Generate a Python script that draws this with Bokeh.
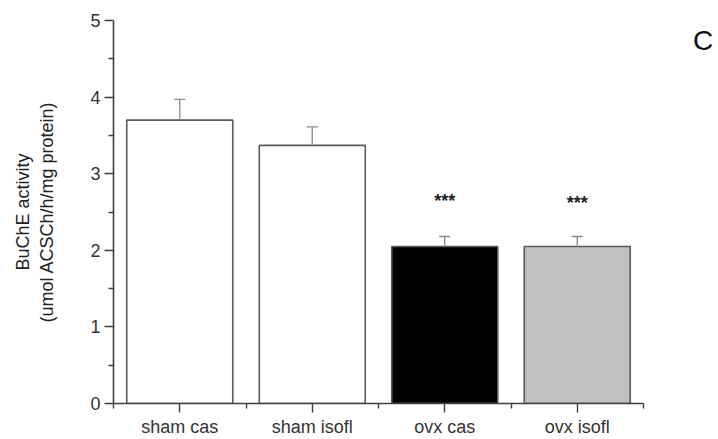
import math
from bokeh.plotting import figure
from bokeh.models import FixedTicker, Label, ColumnDataSource, Range1d
from bokeh.core.properties import value
from bokeh.embed import file_html
from bokeh.resources import INLINE

categories = ["sham cas", "sham isofl", "ovx cas", "ovx isofl"]
means = [3.70, 3.37, 2.05, 2.05]
errors = [0.27, 0.24, 0.13, 0.13]
bar_colors = ["white", "white", "black", "#c0c0c0"]
stars = ["", "", "***", "***"]
star_y = [0, 0, 2.65, 2.62]
y_ticks = [0, 1, 2, 3, 4, 5]
y_minor = [0.5, 1.5, 2.5, 3.5, 4.5]

FONT = "Liberation Sans"
xs = [i + 0.5 for i in range(len(categories))]

p = figure(width=718, height=439, output_backend="svg", toolbar_location=None,
           x_range=Range1d(0, 4.566), y_range=Range1d(0, 5),
           min_border_left=113, min_border_right=0, min_border_top=20, min_border_bottom=34)
p.outline_line_color = None
p.xgrid.visible = False
p.ygrid.visible = False
p.background_fill_color = "white"

src = ColumnDataSource(dict(x=xs, top=means, color=bar_colors,
                            up=[m + e for m, e in zip(means, errors)]))
p.vbar(x="x", top="top", bottom=0, width=0.8, source=src, fill_color="color",
       line_color="#5a5a5a", line_width=1.6)
p.segment(x0="x", y0="top", x1="x", y1="up", source=src, line_color="#8a8a8a", line_width=1.3)
p.scatter(x="x", y="up", source=src, marker="dash", size=11, line_color="#8a8a8a", line_width=1.3)

sx = [x for x, s in zip(xs, stars) if s]
sy = [y for y, s in zip(star_y, stars) if s]
st = [s for s in stars if s]
p.text(x=sx, y=sy, text=st, text_align="center", text_baseline="middle",
       text_font=value(FONT), text_font_size="18px", text_font_style="bold", text_color="#222222")

# axes
p.xaxis.ticker = FixedTicker(ticks=xs, minor_ticks=[0, 1, 2, 3, 4])
p.xaxis.major_label_overrides = {x: c for x, c in zip(xs, categories)}
p.xaxis.bounds = (0, 4)
p.yaxis.ticker = FixedTicker(ticks=y_ticks, minor_ticks=y_minor)
for ax in (p.xaxis[0], p.yaxis[0]):
    ax.axis_line_color = "#404040"
    ax.axis_line_width = 1.6
    ax.major_tick_line_color = "#404040"
    ax.minor_tick_line_color = "#404040"
    ax.major_tick_line_width = 1.4
    ax.minor_tick_line_width = 1.4
    ax.major_tick_in = 0
    ax.minor_tick_in = 0
    ax.major_tick_out = 9
    ax.minor_tick_out = 5
    ax.major_label_text_font = FONT
    ax.major_label_text_font_size = "18px"
    ax.major_label_text_color = "#333333"
p.xaxis.major_label_standoff = 4
p.yaxis.major_label_standoff = 4
p.yaxis.axis_label = "BuChE activity\n(umol ACSCh/h/mg protein)"
p.yaxis.axis_label_text_font = FONT
p.yaxis.axis_label_text_font_size = "18px"
p.yaxis.axis_label_text_font_style = "normal"
p.yaxis.axis_label_text_color = "#222222"
p.yaxis.axis_label_standoff = 30

p.add_layout(Label(x=4.45, y=4.74, text="C", text_align="center", text_baseline="middle",
                   text_font=FONT, text_font_size="28px", text_color="#111111"))

open("out.html", "w").write(file_html(p, INLINE))
